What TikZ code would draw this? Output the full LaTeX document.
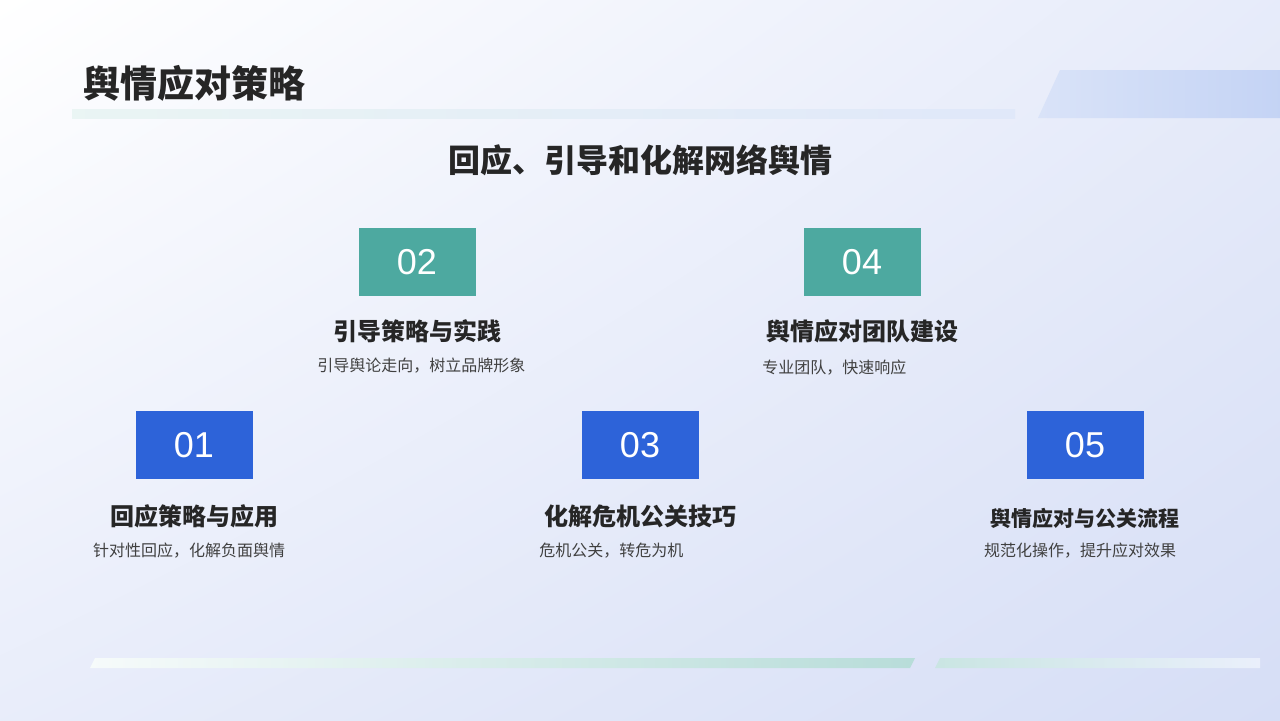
\documentclass[tikz,border=0pt]{standalone}
\usepackage{fontspec}
\setmainfont{Noto Sans CJK SC}
\newfontfamily\digitfont{Liberation Sans}
\usepackage{tikz}
\usetikzlibrary{positioning,shadings}
\definecolor{tealbox}{HTML}{4DA9A0}
\definecolor{bluebox}{HTML}{2D63D9}
\definecolor{bgblue}{HTML}{D6DEF6}
\definecolor{textdark}{HTML}{262626}
\definecolor{textgray}{HTML}{404040}
\tikzset{
	numbox/.style={minimum width=58.5pt, minimum height=34pt, inner sep=0pt,
		text=white, font=\digitfont\fontsize{18}{18}\selectfont},
	subtitle/.style={text=textdark, font=\fontsize{12}{13}\selectfont\bfseries},
	desc/.style={text=textgray, font=\fontsize{8}{12}\selectfont, inner sep=0pt}
}
\begin{document}
\begin{tikzpicture}[x=0.5pt, y=-0.5pt]
	% background
	\useasboundingbox (0,0) rectangle (1280,720);
	\shade[upper left=white, upper right=bgblue!60, lower left=bgblue!55, lower right=bgblue]
		(0,0) rectangle (1280,720);
	% top decoration
	\shade[left color=tealbox!12, right color=bluebox!15]
		(72,109) rectangle (1015,118);
	\shade[left color=bluebox!18, right color=bluebox!28]
		(1060,70) -- (1280,70) -- (1280,118) -- (1038,118) -- cycle;
	% bottom decoration
	\shade[left color=tealbox!5, right color=tealbox!40]
		(95,658) -- (915,658) -- (910,668) -- (90,668) -- cycle;
	\shade[left color=tealbox!30, right color=bluebox!10]
		(940,658) -- (1260,658) -- (1260,668) -- (935,668) -- cycle;
	% titles
	\node[anchor=west, text=textdark, font=\fontsize{18.5}{19}\selectfont\bfseries]
		(title) at (76,83) {舆情应对策略};
	\node[text=textdark, font=\fontsize{16}{17}\selectfont\bfseries]
		(heading) at (640,160) {回应、引导和化解网络舆情};
	% items
	\node[numbox, fill=bluebox] (n1) at (194,445) {01};
	\node[numbox, fill=tealbox] (n2) at (417,262) {02};
	\node[numbox, fill=bluebox] (n3) at (640,445) {03};
	\node[numbox, fill=tealbox] (n4) at (862,262) {04};
	\node[numbox, fill=bluebox] (n5) at (1085,445) {05};
	\node[subtitle] (s1) at (194,516) {回应策略与应用};
	\node[subtitle] (s2) at (417,331) {引导策略与实践};
	\node[subtitle] (s3) at (640,516) {化解危机公关技巧};
	\node[subtitle] (s4) at (862,331) {舆情应对团队建设};
	\node[subtitle, font=\fontsize{10.5}{12}\selectfont\bfseries] (s5) at (1085,518) {舆情应对与公关流程};
	\node[desc] (d1) at (189,551) {针对性回应，化解负面舆情};
	\node[desc, anchor=north west, text width=98pt] (d2) at (317,358) {引导舆论走向，树立品牌形象};
	\node[desc, anchor=west] (d3) at (539,551) {危机公关，转危为机};
	\node[desc, anchor=west] (d4) at (762,368) {专业团队，快速响应};
	\node[desc] (d5) at (1080,551) {规范化操作，提升应对效果};
\end{tikzpicture}
\end{document}
